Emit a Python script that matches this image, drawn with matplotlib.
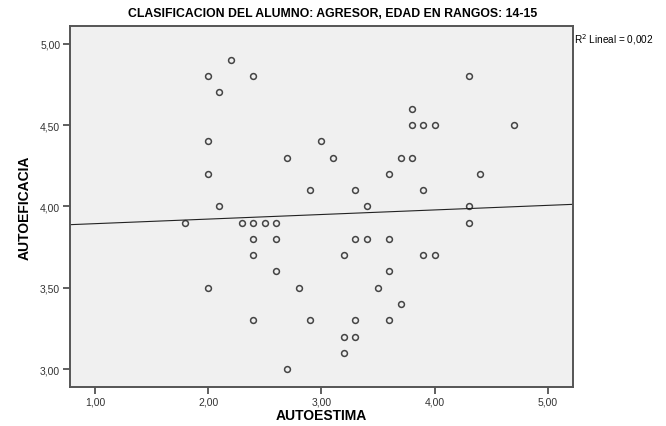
import numpy as np
import matplotlib.pyplot as plt

# AUTOESTIMA (x) y AUTOEFICACIA (y)
autoestima = [2.2, 2.0, 2.4, 2.1, 2.0, 3.0, 2.7, 3.1, 2.0, 2.9, 2.1,
              4.3, 3.8, 3.8, 3.9, 4.0, 4.7, 3.7, 3.8, 3.6, 4.4, 3.3,
              3.9, 3.4, 4.3, 1.8, 2.3, 2.4, 2.5, 2.6, 2.4, 2.6, 2.4,
              3.2, 2.6, 2.0, 2.8, 2.4, 2.9, 3.2, 3.2, 2.7, 4.3, 3.3,
              3.4, 3.6, 3.9, 4.0, 3.6, 3.5, 3.7, 3.3, 3.6, 3.3]
autoeficacia = [4.9, 4.8, 4.8, 4.7, 4.4, 4.4, 4.3, 4.3, 4.2, 4.1, 4.0,
                4.8, 4.6, 4.5, 4.5, 4.5, 4.5, 4.3, 4.3, 4.2, 4.2, 4.1,
                4.1, 4.0, 4.0, 3.9, 3.9, 3.9, 3.9, 3.9, 3.8, 3.8, 3.7,
                3.7, 3.6, 3.5, 3.5, 3.3, 3.3, 3.2, 3.1, 3.0, 3.9, 3.8,
                3.8, 3.8, 3.7, 3.7, 3.6, 3.5, 3.4, 3.3, 3.3, 3.2]

x_ticks = [1.0, 2.0, 3.0, 4.0, 5.0]
y_ticks = [3.0, 3.5, 4.0, 4.5, 5.0]

titulo = "CLASIFICACION DEL ALUMNO: AGRESOR, EDAD EN RANGOS: 14-15"
r2_texto = "R$^2$ Lineal = 0,002"

plt.rcParams['font.family'] = ['Liberation Sans', 'DejaVu Sans']

fig = plt.figure(figsize=(6.66, 4.27), dpi=100)
ax = fig.add_axes([0.105, 0.0913, 0.755, 0.846])
ax.set_facecolor('#f0f0f0')

x = np.array(autoestima)
y = np.array(autoeficacia)

ax.plot(x, y, 'o', ls='none', ms=4.2, mfc='none', mec='#444444', mew=1.1)

# recta de regresion lineal
xlim = (0.78, 5.22)
m, b = np.polyfit(x, y, 1)
xx = np.array(xlim)
ax.plot(xx, m * xx + b, color='#222222', lw=0.8)

ax.set_xlim(*xlim)
ax.set_ylim(2.89, 5.11)
ax.set_xticks(x_ticks)
ax.set_yticks(y_ticks)
ax.set_xticklabels([f"{v:.2f}".replace('.', ',') for v in x_ticks])
ax.set_yticklabels([f"{v:.2f}".replace('.', ',') for v in y_ticks])
ax.tick_params(direction='out', length=5, width=1.2, color='#444444',
               labelsize=7.5, labelcolor='#333333', pad=2)

for s in ax.spines.values():
    s.set_color('#555555')
    s.set_linewidth(1.4)

ax.set_xlabel("AUTOESTIMA", fontsize=10, fontweight='bold', labelpad=1)
ax.set_ylabel("AUTOEFICACIA", fontsize=10, fontweight='bold', labelpad=6)

fig.text(0.5, 0.968, titulo, ha='center', va='center', fontsize=8.8,
         fontweight='bold')
ax.text(1.003, 0.985, r2_texto, transform=ax.transAxes, ha='left',
        va='top', fontsize=7.2)

fig.savefig("out.png", dpi=100)
